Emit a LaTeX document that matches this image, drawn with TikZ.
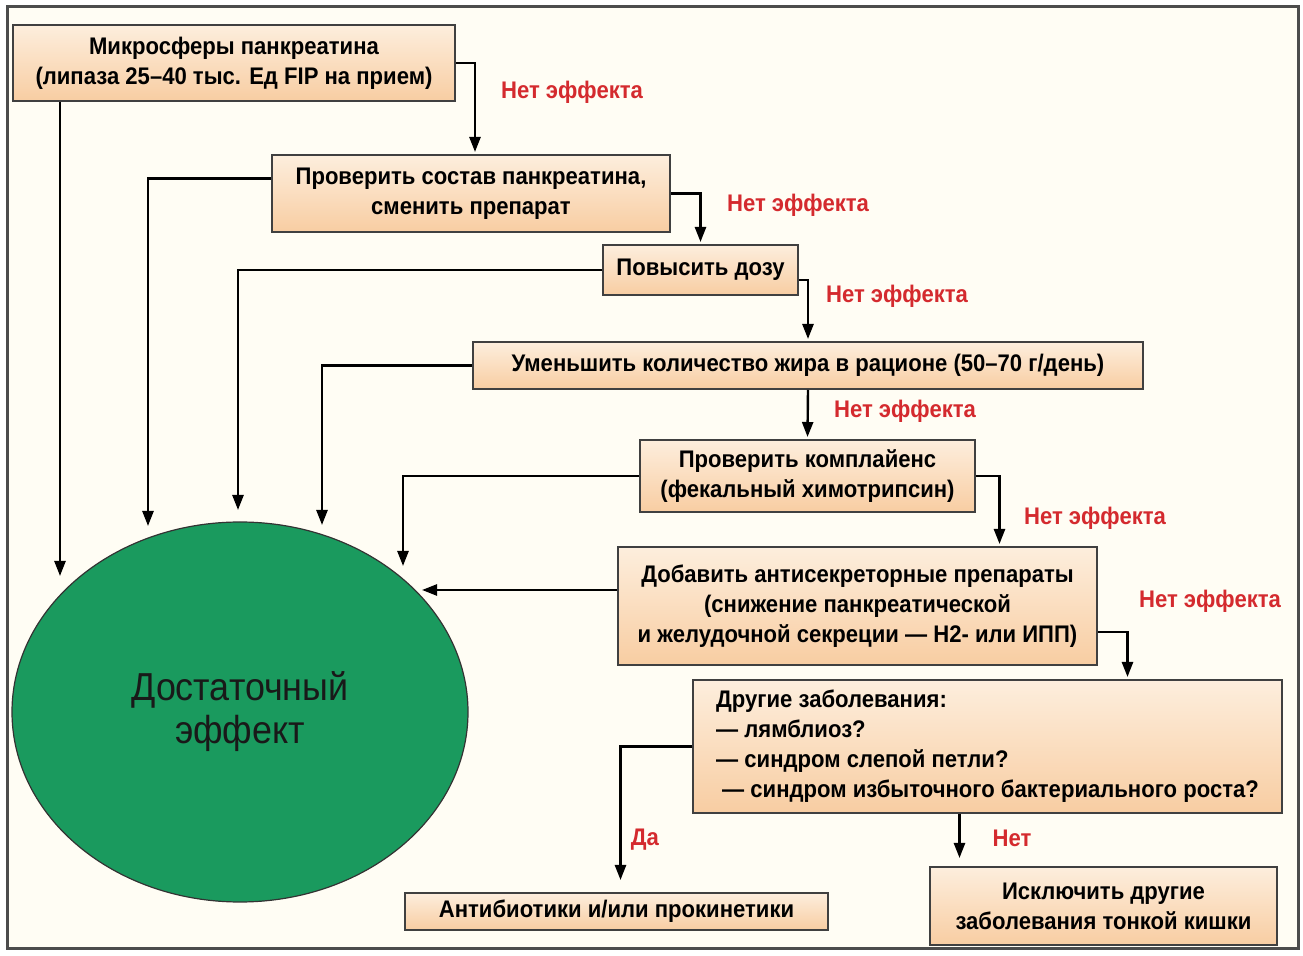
\documentclass[tikz,border=0pt]{standalone}
\usepackage{fontspec}
\setmainfont{Liberation Sans}[FakeStretch=0.92]
\usepackage{xcolor}
\definecolor{EffectRed}{HTML}{D42A2E}
\definecolor{PeachTop}{HTML}{FDEEDD}
\definecolor{PeachBot}{HTML}{F8CDA2}
\definecolor{CalmGreen}{HTML}{1A9A5E}
\definecolor{PaperCream}{HTML}{FFFDF4}
\usetikzlibrary{arrows.meta, shapes.geometric, positioning}

\tikzset{
  stepbox/.style={draw=black!75, line width=1pt, top color=PeachTop, bottom color=PeachBot,
    font=\bfseries\fontsize{12}{15}\selectfont, align=center, inner sep=0pt},
  noeff/.style={text=EffectRed, font=\bfseries\fontsize{12}{13}\selectfont},
  link/.style={line width=1.2pt, -{Triangle[length=7.5pt,width=5.5pt]}, shorten >=1pt},
}

\begin{document}
\begin{tikzpicture}[x=0.5pt, y=-0.5pt]
  \useasboundingbox (0,0) rectangle (1303,956);
  \draw[fill=PaperCream, draw=black!70, line width=1.5pt] (7,7) rectangle (1298,949);

  % steps
  \node[stepbox, minimum width=221pt, minimum height=38pt] (m1) at (234,63)
    {Микросферы панкреатина\\(липаза 25–40 тыс. Ед FIP на прием)};
  \node[stepbox, minimum width=199pt, minimum height=38.5pt] (m2) at (471,193.5)
    {Проверить состав панкреатина,\\сменить препарат};
  \node[stepbox, minimum width=97.5pt, minimum height=25pt] (m3) at (700.5,270)
    {Повысить дозу};
  \node[stepbox, minimum width=335pt, minimum height=23.5pt] (m4) at (808,365.5)
    {Уменьшить количество жира в рационе (50–70 г/день)};
  \node[stepbox, minimum width=167.5pt, minimum height=36pt] (m5) at (807.5,476)
    {Проверить комплайенс\\(фекальный химотрипсин)};
  \node[stepbox, minimum width=239.5pt, minimum height=59pt] (m6) at (857.5,606)
    {Добавить антисекреторные препараты\\(снижение панкреатической\\и желудочной секреции — Н2- или ИПП)};
  \node[stepbox, minimum width=294.5pt, minimum height=66.5pt, align=left] (m7) at (987.5,746.5)
    {Другие заболевания:\\— лямблиоз?\\— синдром слепой петли?\\\hspace{3pt}— синдром избыточного бактериального роста?};
  \node[stepbox, minimum width=211.5pt, minimum height=18.5pt] (m8) at (616.5,911.5)
    {Антибиотики и/или прокинетики};
  \node[stepbox, minimum width=173.5pt, minimum height=39pt] (m9) at (1103.5,906)
    {Исключить другие\\заболевания тонкой кишки};

  \node[ellipse, draw=black!80, line width=0.6pt, fill=CalmGreen, minimum width=228pt, minimum height=190pt,
    align=center, font=\fontsize{19.5}{21.5}\selectfont, text=black!90] (ok) at (240,712)
    {Достаточный\\эффект};

  % labels
  \node[noeff] (l1) at (572,92) {Нет эффекта};
  \node[noeff] (l2) at (798,205) {Нет эффекта};
  \node[noeff] (l3) at (897,296) {Нет эффекта};
  \node[noeff] (l4) at (905,411) {Нет эффекта};
  \node[noeff] (l5) at (1095,518) {Нет эффекта};
  \node[noeff] (l6) at (1210,601) {Нет эффекта};
  \node[noeff] (l7) at (645,840) {Да};
  \node[noeff] (l8) at (1012,838) {Нет};

  % arrow tips at the circle
  \coordinate (t1) at (60,578);
  \coordinate (t2) at (148,528);
  \coordinate (t3) at (238,512);
  \coordinate (t4) at (322,527);
  \coordinate (t5) at (403,568);
  \coordinate (t6) at (420,590);

  % down the chain
  \draw[link] (m1.east) -| ([xshift=2pt]m2.north);
  \draw[link] (m2.east) -| (m3.north);
  \draw[link] ([yshift=-5pt]m3.east) -| (m4.north);
  \draw[link] (m4.south) -- (m5.north);
  \draw[link] (m5.east) -| ([xshift=71pt]m6.north);
  \draw[link] ([yshift=-13pt]m6.east) -| ([xshift=70pt]m7.north);
  \draw[link, shorten >=6pt] (m7.west) -| ([xshift=2pt]m8.north);
  \draw[link, shorten >=4pt] ([xshift=-14pt]m7.south) -- ([xshift=-14pt]m7.south |- m9.north);

  % back to the circle
  \draw[link] (m1.south -| t1) -- (t1);
  \draw[link] ([yshift=7.5pt]m2.west) -| (t2);
  \draw[link] (m3.west) -| (t3);
  \draw[link] (m4.west) -| (t4);
  \draw[link] (m5.west) -| (t5);
  \draw[link] ([yshift=8pt]m6.west) -- (t6);
\end{tikzpicture}
\end{document}
